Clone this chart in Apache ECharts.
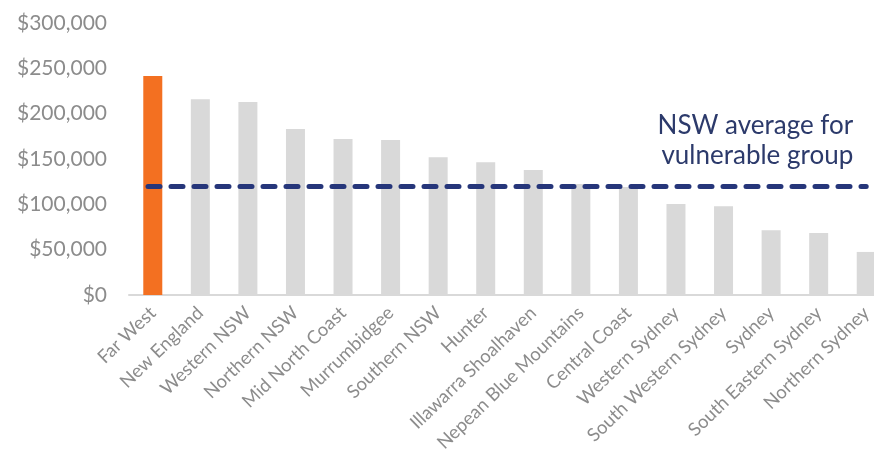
<!DOCTYPE html>
<html>
<head>
<meta charset="utf-8">
<script src="https://cdn.jsdelivr.net/npm/echarts@6/dist/echarts.min.js"></script>
<style>html,body{margin:0;padding:0;background:#fff;overflow:hidden}#c{width:890px;height:467px}</style>
</head>
<body>
<div id="c"></div>
<script>
const categories = ['Far West','New England','Western NSW','Northern NSW','Mid North Coast','Murrumbidgee','Southern NSW','Hunter','Illawarra Shoalhaven','Nepean Blue Mountains','Central Coast','Western Sydney','South Western Sydney','Sydney','South Eastern Sydney','Northern Sydney'];
const values = [241500,216000,213000,183000,172000,171000,152000,146500,138000,122500,119000,100500,98000,71500,68500,47500];
const nswAverage = 120000;
const averageLabel = 'NSW average for\nvulnerable group';
const highlightIndex = 0;

const chart = echarts.init(document.getElementById('c'));
chart.setOption({
  animation: false,
  grid: { left: 129, right: 0, top: 23, bottom: 172, containLabel: false },
  xAxis: {
    type: 'category',
    data: categories,
    axisLine: { lineStyle: { color: '#d9d9d9', width: 2 } },
    axisTick: { show: false },
    axisLabel: { rotate: 44, interval: 0, color: '#8c8c8c', fontSize: 18.5, fontFamily: 'Lato', margin: 15 }
  },
  yAxis: {
    type: 'value', min: 0, max: 300000, interval: 50000,
    splitLine: { show: false },
    axisLine: { show: false },
    axisTick: { show: false },
    axisLabel: {
      color: '#8c8c8c', fontSize: 21, fontFamily: 'Lato', margin: 22,
      formatter: v => '$' + v.toLocaleString('en-US')
    }
  },
  series: [{
    type: 'bar',
    barWidth: 19,
    data: values.map((v, i) => ({ value: v, itemStyle: { color: i === highlightIndex ? '#f37021' : '#d9d9d9' } })),
    markLine: {
      symbol: 'none',
      silent: true,
      lineStyle: { color: '#26367a', width: 5, type: [12, 11], cap: 'round' },
      label: {
        show: true, position: 'insideEndTop', formatter: averageLabel,
        color: '#2c3a6b', fontSize: 26, fontFamily: 'Lato', lineHeight: 30, align: 'right', distance: [13, 16]
      },
      data: [[{ xAxis: 0, yAxis: nswAverage, x: 148 }, { xAxis: categories.length - 1, yAxis: nswAverage }]]
    }
  }]
});
</script>
</body>
</html>
